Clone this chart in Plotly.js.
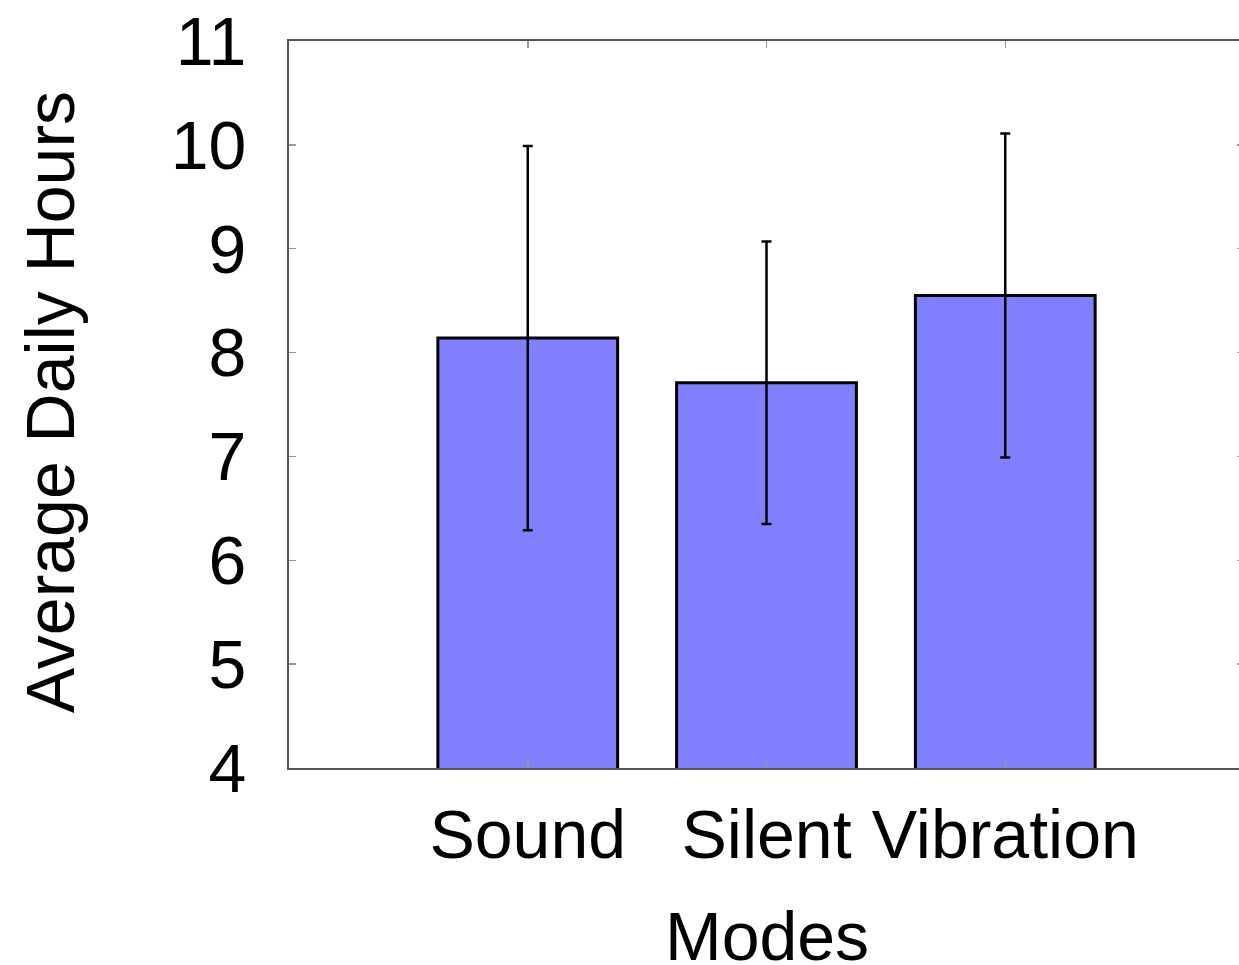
<!DOCTYPE html>
<html>
<head>
<meta charset="utf-8">
<script src="https://cdn.plot.ly/plotly-3.0.1.min.js"></script>
<style>
  html, body { margin: 0; padding: 0; overflow: hidden; background: #fff; }
  #chart { width: 1260px; height: 965px; }
</style>
</head>
<body>
<div id="chart"></div>
<script>
// Average daily hours per notification mode, with error (± one deviation)
const modes = ["Sound", "Silent", "Vibration"];
const avgHours = [8.14, 7.71, 8.55];
const errHours = [1.85, 1.36, 1.56];
const yTicks = [4, 5, 6, 7, 8, 9, 10, 11];

const FONT = "Liberation Sans, Arial, Helvetica, sans-serif";
const SIZE = 68;

const trace = {
  type: "bar",
  x: modes,
  y: avgHours,
  base: 0,
  marker: { color: "#8080ff", line: { color: "#000000", width: 3 } },
  error_y: { type: "data", array: errHours, visible: true, color: "#000000", thickness: 2.5, width: 5 },
  hoverinfo: "x+y"
};

const layout = {
  width: 1260,
  height: 965,
  margin: { l: 289, r: 16, t: 41, b: 197 },
  paper_bgcolor: "#ffffff",
  plot_bgcolor: "#ffffff",
  showlegend: false,
  bargap: 0.247,
  font: { family: FONT, color: "#000000", size: SIZE },
  xaxis: {
    type: "category",
    range: [-1, 3],
    showgrid: false,
    zeroline: false,
    showline: true, linecolor: "#555555", linewidth: 2,
    mirror: "ticks",
    ticks: "inside", ticklen: 7, tickwidth: 1.5, tickcolor: "#999999",
    tickfont: { family: FONT, size: SIZE, color: "#000000" },
    ticklabelstandoff: 6
  },
  yaxis: {
    range: [4, 11],
    tickvals: yTicks,
    ticktext: yTicks.map(String),
    showgrid: false,
    zeroline: false,
    showline: true, linecolor: "#555555", linewidth: 2,
    mirror: "ticks",
    ticks: "inside", ticklen: 7, tickwidth: 1.5, tickcolor: "#999999",
    tickfont: { family: FONT, size: SIZE, color: "#000000" },
    ticklabelstandoff: 27
  },
  annotations: [
    {
      text: "Average Daily Hours", textangle: -90,
      xref: "paper", yref: "paper", x: 0, y: 0.503,
      xanchor: "center", yanchor: "middle", xshift: -239,
      showarrow: false, font: { family: FONT, size: SIZE, color: "#000000" }
    },
    {
      text: "Modes",
      xref: "paper", yref: "paper", x: 0.5, y: 0,
      xanchor: "center", yanchor: "middle", yshift: -168,
      showarrow: false, font: { family: FONT, size: SIZE, color: "#000000" }
    }
  ]
};

Plotly.newPlot("chart", [trace], layout, { displayModeBar: false, staticPlot: true });
</script>
</body>
</html>
